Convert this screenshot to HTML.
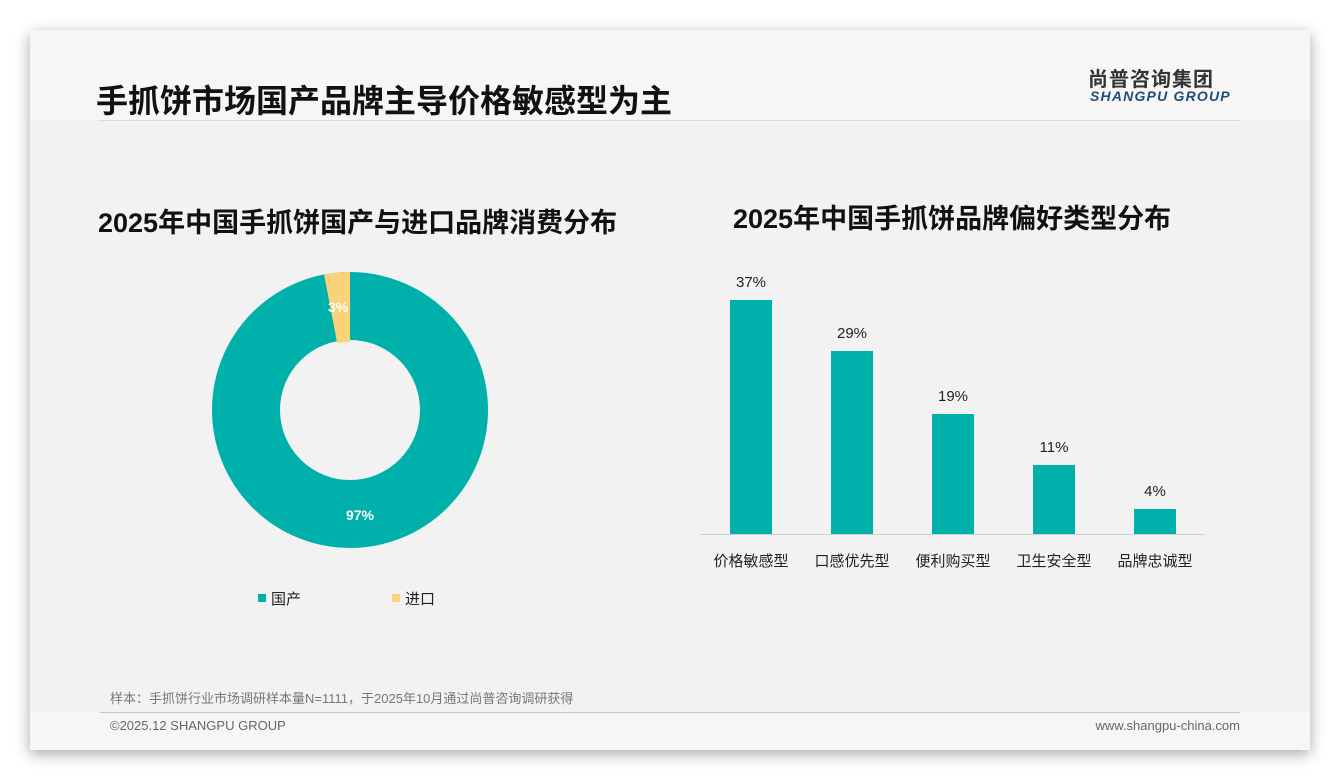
<!DOCTYPE html>
<html><head><meta charset="utf-8"><style>
body{margin:0;width:1340px;height:780px;background:#fff;position:relative;overflow:hidden;font-family:"Liberation Sans","Noto Sans CJK SC",sans-serif;}
.card{position:absolute;left:30px;top:30px;width:1280px;height:720px;background:#f2f2f2;box-shadow:0 4px 14px rgba(0,0,0,0.35);}
.hdr{position:absolute;left:0;top:0;width:1280px;height:90px;background:#f6f6f6;}
.ftr{position:absolute;left:0;top:682px;width:1280px;height:38px;background:#f6f6f6;}
.t{position:absolute;white-space:nowrap;}
</style></head><body>
<div class="card">
<div class="hdr"></div><div class="ftr"></div>
<div class="t" style="left:66px;top:46px;font-size:32px;font-weight:bold;color:#111;">手抓饼市场国产品牌主导价格敏感型为主</div>
<div style="position:absolute;left:68px;top:90px;width:1142px;height:1px;background:#dcdcdc"></div>
<div class="t" style="left:1058px;top:33px;font-size:20px;font-weight:bold;color:#333;letter-spacing:1px">尚普咨询集团</div>
<div class="t" style="left:1060px;top:58px;font-size:14px;font-weight:bold;font-style:italic;color:#1f4e79;letter-spacing:1.2px">SHANGPU GROUP</div>
<div class="t" style="left:68px;top:171px;font-size:27px;font-weight:bold;color:#111;">2025年中国手抓饼国产与进口品牌消费分布</div>
<div class="t" style="left:703px;top:167px;font-size:27px;font-weight:bold;color:#111;">2025年中国手抓饼品牌偏好类型分布</div>
<div class="t" style="left:80px;top:658px;font-size:13px;color:#777;">样本：手抓饼行业市场调研样本量N=1111，于2025年10月通过尚普咨询调研获得</div>
<div style="position:absolute;left:70px;top:682px;width:1140px;height:1px;background:#b8c8d8"></div>
<div class="t" style="left:80px;top:688px;font-size:13px;color:#666;">©2025.12 SHANGPU GROUP</div>
<div class="t" style="right:70px;top:688px;font-size:13px;color:#666;">www.shangpu-china.com</div>
</div>
<svg style="position:absolute;left:0;top:0" width="1340" height="780">
<circle cx="350" cy="410" r="104" fill="none" stroke="#00b0aa" stroke-width="68"/>
<path d="M350 272 L350 342 A68 68 0 0 0 337.2 343.2 L324.1 274.5 A138 138 0 0 1 350 272 Z" fill="#f9d27a"/>
<text x="328" y="312" font-size="14" font-weight="bold" fill="#fff" font-family="Liberation Sans">3%</text>
<text x="360" y="520" font-size="14" font-weight="bold" fill="#fff" text-anchor="middle" font-family="Liberation Sans">97%</text>
<rect x="258" y="594" width="8" height="8" fill="#00b0aa"/>
<text x="271" y="604" font-size="15" fill="#222" font-family="Liberation Sans,Noto Sans CJK SC">国产</text>
<rect x="392" y="594" width="8" height="8" fill="#f9d27a"/>
<text x="405" y="604" font-size="15" fill="#222" font-family="Liberation Sans,Noto Sans CJK SC">进口</text>
<line x1="700" y1="534.5" x2="1205" y2="534.5" stroke="#d0d0d0"/>
<g fill="#00b0aa">
<rect x="730" y="300" width="42" height="234"/>
<rect x="831" y="351" width="42" height="183"/>
<rect x="932" y="414" width="42" height="120"/>
<rect x="1033" y="465" width="42" height="69"/>
<rect x="1134" y="509" width="42" height="25"/>
</g>
<g font-size="15" fill="#222" text-anchor="middle" font-family="Liberation Sans,Noto Sans CJK SC">
<text x="751" y="287">37%</text><text x="852" y="338">29%</text><text x="953" y="401">19%</text><text x="1054" y="452">11%</text><text x="1155" y="496">4%</text>
<text x="751" y="566">价格敏感型</text><text x="852" y="566">口感优先型</text><text x="953" y="566">便利购买型</text><text x="1054" y="566">卫生安全型</text><text x="1155" y="566">品牌忠诚型</text>
</g>
</svg>
</body></html>
